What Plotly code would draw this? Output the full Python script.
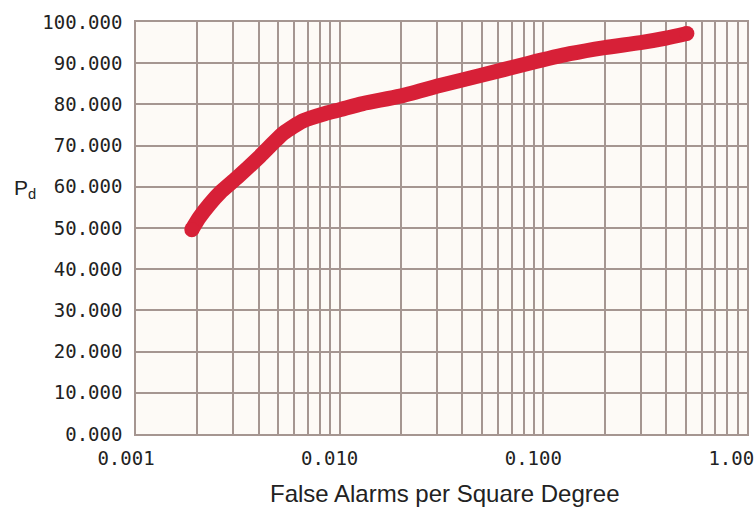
import plotly.graph_objects as go

# Data
far = [0.00188, 0.00205, 0.0023, 0.0026, 0.00313, 0.00406, 0.0053, 0.0066, 0.0085,
       0.0100, 0.013, 0.0198, 0.031, 0.049, 0.085, 0.135, 0.2, 0.3, 0.4, 0.507]
pd_vals = [49.6, 52.6, 55.8, 58.7, 62.2, 67.4, 73.0, 76.0, 77.8,
           78.7, 80.2, 82.0, 84.6, 87.0, 90.0, 92.3, 93.8, 95.0, 96.1, 97.2]

x_major = [0.001, 0.01, 0.1, 1.0]
x_major_text = ["0.001", "0.010", "0.100", "1.000"]
y_ticks = [0, 10, 20, 30, 40, 50, 60, 70, 80, 90, 100]

# all log grid positions 1..9 per decade
x_grid = []
x_grid_text = []
for i, d in enumerate(x_major[:-1]):
    for m in range(1, 10):
        x_grid.append(round(d * m, 6))
        x_grid_text.append(x_major_text[i] if m == 1 else "")
x_grid.append(x_major[-1])
x_grid_text.append(x_major_text[-1])

RED = "rgb(215,32,55)"
GRID = "rgb(165,150,145)"
MONO = "DejaVu Sans Mono"
SANS = "Liberation Sans"

fig = go.Figure()
fig.add_trace(go.Scatter(
    x=far, y=pd_vals, mode="lines",
    line=dict(color=RED, width=15, shape="spline", smoothing=0.6),
    hoverinfo="skip", showlegend=False,
))
fig.add_trace(go.Scatter(
    x=[far[0], far[-1]], y=[pd_vals[0], pd_vals[-1]], mode="markers",
    marker=dict(color=RED, size=15, line=dict(width=0)),
    hoverinfo="skip", showlegend=False,
))

fig.update_layout(
    width=754, height=507,
    margin=dict(l=136, r=7, t=22, b=73, autoexpand=False),
    paper_bgcolor="white",
    plot_bgcolor="rgb(253,250,246)",
    xaxis=dict(
        type="log", range=[-3, 0],
        tickmode="array", tickvals=x_grid, ticktext=x_grid_text,
        showgrid=True, gridcolor=GRID, gridwidth=1.6,
        ticks="", showline=True, linecolor=GRID, linewidth=1.6, mirror=True,
        zeroline=False, automargin=False,
        tickfont=dict(family=MONO, size=19, color="#222"),
        ticklabelstandoff=6,
        ticklabelshift=-10,
        ticklabeloverflow="allow",
    ),
    yaxis=dict(
        range=[0, 100],
        tickmode="array", tickvals=y_ticks,
        ticktext=[f"{v:.3f}" for v in y_ticks],
        showgrid=True, gridcolor=GRID, gridwidth=1.6,
        ticks="", showline=True, linecolor=GRID, linewidth=1.6, mirror=True,
        zeroline=False, automargin=False,
        tickfont=dict(family=MONO, size=19, color="#222"),
        ticklabelstandoff=8,
    ),
    annotations=[
        dict(text="P<sub>d</sub>", xref="paper", yref="paper",
             x=0, y=0.595, xshift=-136 + 12, xanchor="left", yanchor="middle",
             showarrow=False, font=dict(family=SANS, size=21, color="#222")),
        dict(text="False Alarms per Square Degree", xref="paper", yref="paper",
             x=0.505, y=0, yshift=-59, xanchor="center", yanchor="middle",
             showarrow=False, font=dict(family=SANS, size=24, color="#222")),
    ],
)

fig.write_html("out.html")
